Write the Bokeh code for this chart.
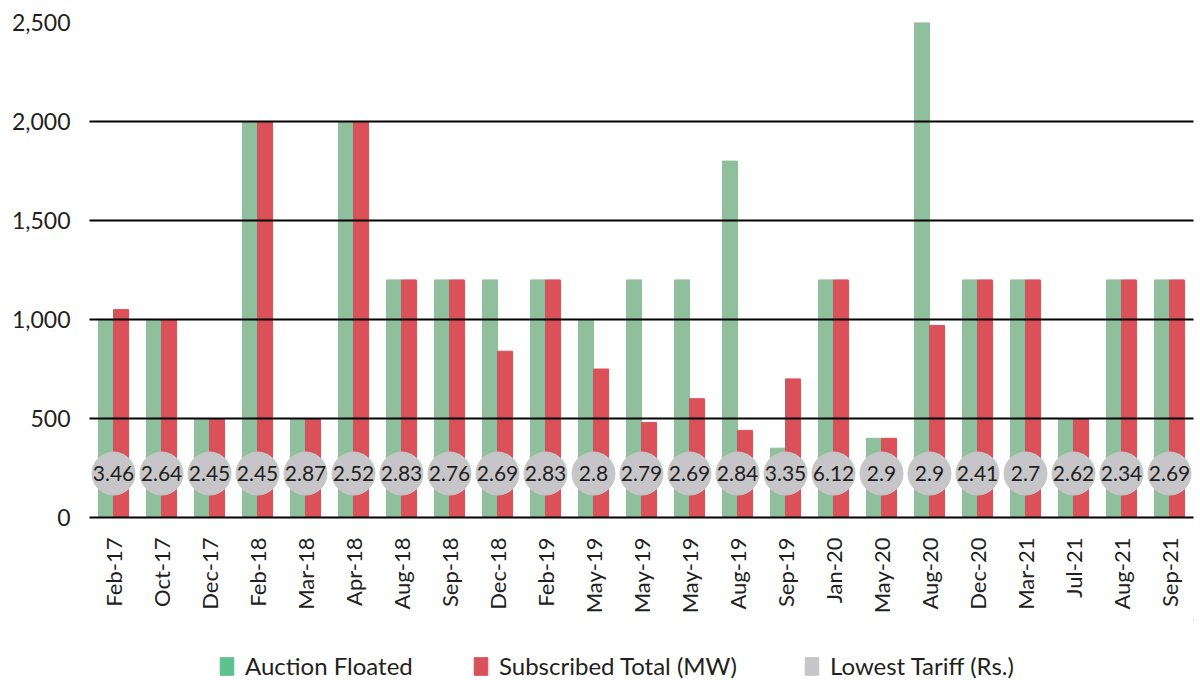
from bokeh.plotting import figure
from bokeh.models import ColumnDataSource, FixedTicker, Legend, LegendItem, Range1d
from bokeh.layouts import column
from bokeh.core.properties import value
from bokeh.embed import file_html
from bokeh.resources import INLINE

categories = ["Feb-17", "Oct-17", "Dec-17", "Feb-18", "Mar-18", "Apr-18", "Aug-18", "Sep-18",
              "Dec-18", "Feb-19", "May-19", "May-19", "May-19", "Aug-19", "Sep-19", "Jan-20",
              "May-20", "Aug-20", "Dec-20", "Mar-21", "Jul-21", "Aug-21", "Sep-21"]
auction_floated = [1000, 1000, 500, 2000, 500, 2000, 1200, 1200, 1200, 1200, 1000, 1200, 1200,
                   1800, 350, 1200, 400, 2500, 1200, 1200, 500, 1200, 1200]
subscribed_total = [1050, 1000, 500, 2000, 500, 2000, 1200, 1200, 840, 1200, 750, 480, 600,
                    440, 700, 1200, 400, 970, 1200, 1200, 500, 1200, 1200]
lowest_tariff = [3.46, 2.64, 2.45, 2.45, 2.87, 2.52, 2.83, 2.76, 2.69, 2.83, 2.8, 2.79, 2.69,
                 2.84, 3.35, 6.12, 2.9, 2.9, 2.41, 2.7, 2.62, 2.34, 2.69]
y_ticks = [0, 500, 1000, 1500, 2000, 2500]
legend_labels = ["Auction Floated", "Subscribed Total (MW)", "Lowest Tariff (Rs.)"]

FONT = "Lato"
GREEN = "#8fbf9b"
RED = "#db5159"
GREY = "#c6c6c8"
TXT = "#231f20"
LEGEND_COLORS = ["#5ec28f", RED, GREY]
BADGE_Y = 222  # vertical position of tariff badges (layout constant)

idx = list(range(len(categories)))
src = ColumnDataSource(dict(
    x=idx,
    xg=[i - 0.156 for i in idx],
    xr=[i + 0.156 for i in idx],
    af=auction_floated,
    st=subscribed_total,
    tariff=[f"{t:g}" for t in lowest_tariff],
    by=[BADGE_Y] * len(idx),
))

p = figure(width=1200, height=620, output_backend="svg", toolbar_location=None,
           x_range=Range1d(-0.5, len(categories) - 0.5), y_range=Range1d(0, 2500),
           min_border_left=89, min_border_right=7, min_border_top=22, min_border_bottom=103)
p.outline_line_color = None

p.vbar(x="xg", top="af", width=0.3125, color=GREEN, source=src)
p.vbar(x="xr", top="st", width=0.3125, color=RED, source=src)
p.scatter(x="x", y="by", size=43, color=GREY, source=src)
p.text(x="x", y="by", text="tariff", text_align="center", text_baseline="middle",
       text_font=value(FONT), text_font_size="21px", text_color=TXT, source=src)

# axes
p.xaxis.ticker = FixedTicker(ticks=idx)
p.xaxis.major_label_overrides = {i: c for i, c in enumerate(categories)}
p.xaxis.major_label_orientation = 3.14159265 / 2
p.xaxis.major_tick_line_color = None
p.xaxis.minor_tick_line_color = None
p.xaxis.axis_line_color = "black"
p.xaxis.axis_line_width = 2
p.xaxis.major_label_standoff = 14
p.xaxis.major_label_text_font = FONT
p.xaxis.major_label_text_font_size = "22px"
p.xaxis.major_label_text_color = TXT

p.yaxis.ticker = FixedTicker(ticks=y_ticks)
p.yaxis.major_label_overrides = {t: f"{t:,}" for t in y_ticks}
p.yaxis.axis_line_color = None
p.yaxis.major_tick_line_color = None
p.yaxis.minor_tick_line_color = None
p.yaxis.major_label_standoff = 13
p.yaxis.major_label_text_font = FONT
p.yaxis.major_label_text_font_size = "23px"
p.yaxis.major_label_text_color = TXT

p.xgrid.grid_line_color = None
p.ygrid.grid_line_color = "black"
p.ygrid.grid_line_width = 2
p.ygrid.level = "guide"

# legend strip: proxy renderers of the same data, kept outside the strip's visible range
lf = figure(width=1200, height=60, output_backend="svg", toolbar_location=None,
            x_axis_type=None, y_axis_type=None,
            x_range=Range1d(-3000, -2000), y_range=Range1d(-6000, -5000),
            min_border_left=0, min_border_right=0, min_border_top=0, min_border_bottom=0)
lf.outline_line_color = None
lf.grid.visible = False
proxies = [
    lf.vbar(x="xg", top="af", width=0.3, color=LEGEND_COLORS[0], source=src),
    lf.vbar(x="xr", top="st", width=0.3, color=LEGEND_COLORS[1], source=src),
    lf.vbar(x="x", top="by", width=0.3, color=LEGEND_COLORS[2], source=src),
]
legend_x = [129, 383, 714]  # relative to the aligned frame
for lab, r, lx in zip(legend_labels, proxies, legend_x):
    lg = Legend(items=[LegendItem(label=lab, renderers=[r], index=0)], location=(lx, 0),
                glyph_width=17, glyph_height=22, label_standoff=10,
                padding=0, margin=0, border_line_color=None, background_fill_alpha=0,
                label_text_font=FONT, label_text_font_size="24px", label_text_color=TXT,
                label_height=22)
    lf.add_layout(lg, "center")

open("out.html", "w").write(file_html(column(p, lf), INLINE))
